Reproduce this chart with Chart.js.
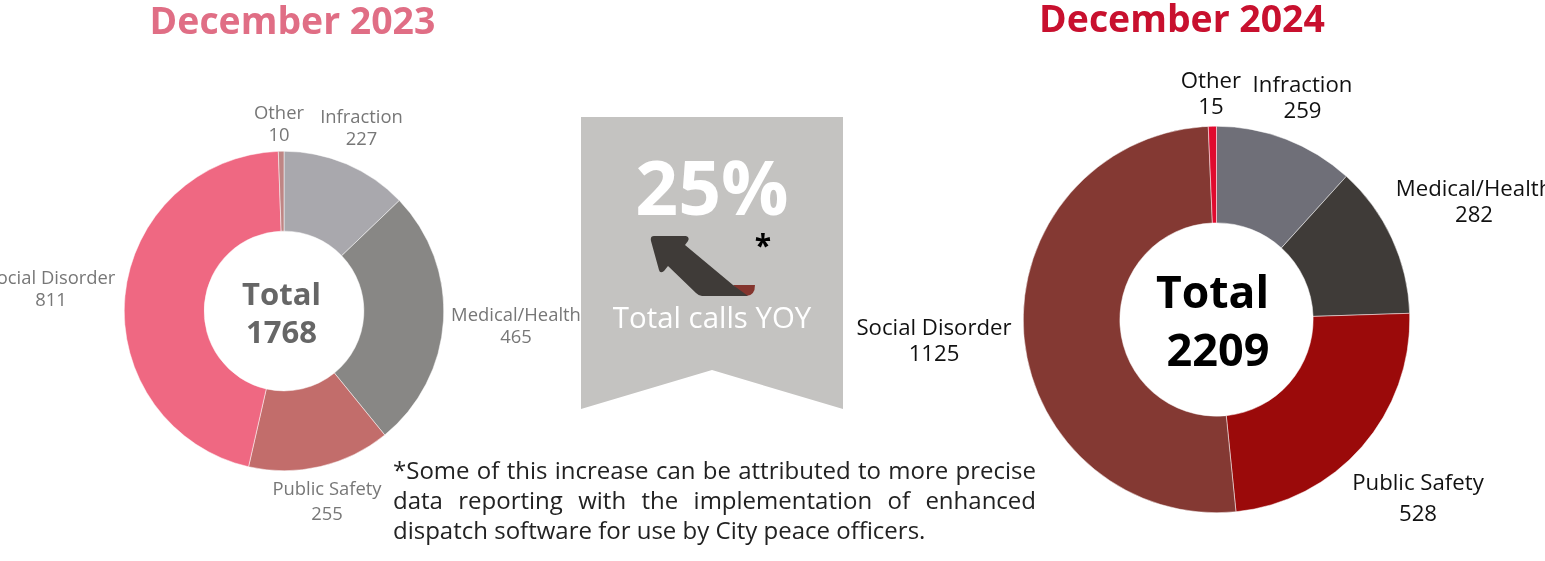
<!DOCTYPE html>
<html>
<head>
<meta charset="utf-8">
<title>Total calls December 2023 vs December 2024</title>
<script src="https://cdn.jsdelivr.net/npm/chart.js@4"></script>
<style>
  html, body { margin: 0; padding: 0; background: #fff; }
  body { position: relative; width: 1545px; height: 561px; overflow: hidden; font-family: "Open Sans", sans-serif; }
  canvas { position: absolute; }
  .t { position: absolute; white-space: nowrap; transform: translate(-50%, -50%); line-height: 1; }
  .title { font-weight: 700; }
  .big { font-weight: 700; }
  #ribbon { position: absolute; left: 581px; top: 117px; width: 262px; height: 292px; background: #c4c3c1;
    clip-path: polygon(0 0, 100% 0, 100% 100%, 50% 253px, 0 100%); }
  #arrow { position: absolute; left: 0; top: 0; }
  .note { position: absolute; left: 393px; width: 643px; font-size: 24px; line-height: 30px; color: #222; white-space: nowrap; text-align: justify; text-align-last: justify; }
</style>
</head>
<body>
<canvas id="c23" width="320" height="320" style="left:124px;top:151px;width:320px;height:320px"></canvas>
<canvas id="c24" width="387" height="387" style="left:1023px;top:126px;width:387px;height:387px"></canvas>
<div id="ribbon"></div>
<svg id="arrow" width="1545" height="561">
  <path d="M733 285 L755 285 Q755 296 746 296 L744 296 Z" fill="#84352e"/>
  <path d="M654 236 L686 236 Q690 237 688 241 L685 245 L733 285 L748 296 L702 296 Q699 296 696 293 L668 266 L664 271 Q660 274 659 270 L651 241 Q650 236 654 236 Z" fill="#3f3b38"/>
</svg>
<script>
const categories = ['Infraction', 'Medical/Health', 'Public Safety', 'Social Disorder', 'Other'];
const values2023 = [227, 465, 255, 811, 10];
const values2024 = [259, 282, 528, 1125, 15];
const colors2023 = ['#a9a8ad', '#888785', '#c26d6b', '#ef6882', '#bf8584'];
const colors2024 = ['#6f6f78', '#3f3b38', '#9b0a0a', '#843933', '#e00a2e'];
// label spots: x, y of name, y of value
const spots2023 = [[361.5, 116, 138], [516, 314, 336], [327, 488, 513], [51, 277, 299], [279, 112, 134]];
const spots2024 = [[1302.5, 84, 110], [1474, 188, 214], [1418, 482, 513], [934, 327, 353], [1211, 80, 106]];

function text(str, x, y, size, color, cls) {
  const d = document.createElement('div');
  d.className = 't ' + (cls || '');
  d.textContent = str;
  d.style.left = x + 'px';
  d.style.top = y + 'px';
  d.style.fontSize = size + 'px';
  d.style.color = color;
  document.body.appendChild(d);
}

function donut(id, values, colors) {
  new Chart(document.getElementById(id), {
    type: 'doughnut',
    data: {
      labels: categories,
      datasets: [{ data: values, backgroundColor: colors, borderColor: '#fff', borderWidth: 0.5 }]
    },
    options: {
      responsive: false,
      animation: false,
      cutout: '50%',
      layout: { padding: 0 },
      plugins: { legend: { display: false }, tooltip: { enabled: false } }
    }
  });
}

donut('c23', values2023, colors2023);
donut('c24', values2024, colors2024);

categories.forEach((c, i) => {
  text(c, spots2023[i][0], spots2023[i][1], 18.4, '#777', '');
  text(values2023[i], spots2023[i][0], spots2023[i][2], 18.4, '#777', '');
  text(c, spots2024[i][0], spots2024[i][1], 22.2, '#111', '');
  text(values2024[i], spots2024[i][0], spots2024[i][2], 22.2, '#111', '');
});

text('December 2023', 292.5, 20, 37.4, '#e06e85', 'title');
text('December 2024', 1182, 18, 37.4, '#c8102e', 'title');
text('Total', 281.5, 293, 31, '#666', 'big');
text(values2023.reduce((a, b) => a + b, 0), 281.5, 331, 31, '#666', 'big');
text('Total', 1212.5, 291, 44.5, '#000', 'big');
text(values2024.reduce((a, b) => a + b, 0), 1218, 348, 45, '#000', 'big');
text('25%', 712, 186, 75, '#fff', 'big');
text('*', 763, 245, 30, '#000', 'big');
text('Total calls YOY', 712, 318, 29.4, '#fff', '');

const noteLines = [
  '*Some of this increase can be attributed to more precise',
  'data reporting with the implementation of enhanced',
  'dispatch software for use by City peace officers.'
];
noteLines.forEach((line, i) => {
  const d = document.createElement('div');
  d.className = 'note';
  d.textContent = line;
  d.style.top = (455 + i * 30) + 'px';
  if (i === 2) { d.style.textAlign = 'left'; d.style.textAlignLast = 'left'; }
  document.body.appendChild(d);
});
</script>
</body>
</html>
